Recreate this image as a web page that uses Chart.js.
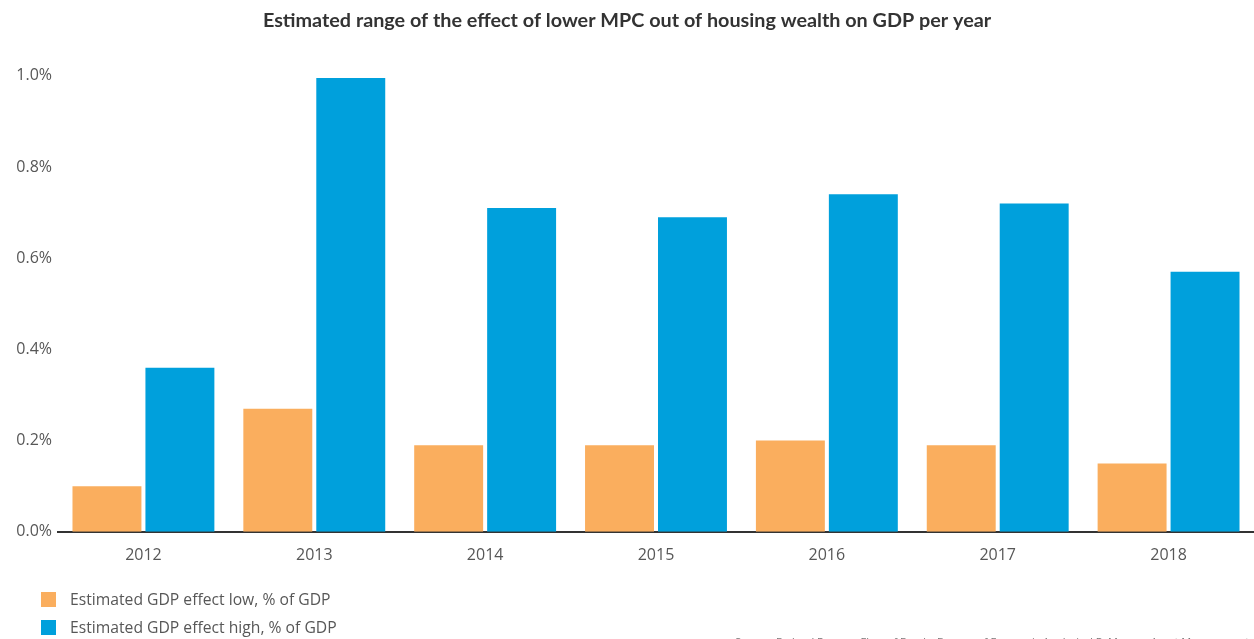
<!DOCTYPE html>
<html>
<head>
<meta charset="utf-8">
<script src="https://cdn.jsdelivr.net/npm/chart.js@4.4.1/dist/chart.umd.min.js"></script>
<style>
  html, body { margin: 0; padding: 0; background: #fff; overflow: hidden; }
  #wrap { position: relative; width: 1254px; height: 639px; overflow: hidden; }
  #legend { position: absolute; left: 41px; top: 585px; font-family: "Open Sans", sans-serif; font-size: 15.7px; color: #575757; }
  .item { display: flex; align-items: center; height: 28px; }
  .sw { width: 15px; height: 15px; margin-right: 14px; }
  #source { position: absolute; left: 735px; top: 634px; font-family: "Open Sans", sans-serif; font-size: 11px; color: #777; white-space: nowrap; }
</style>
</head>
<body>
<div id="wrap">
  <canvas id="c" width="1254" height="639"></canvas>
  <div id="legend"></div>
  <div id="source">Source: Federal Reserve Flow of Funds, Bureau of Economic Analysis, J.P. Morgan Asset Management</div>
</div>
<script>
const categories = ["2012", "2013", "2014", "2015", "2016", "2017", "2018"];
const lowValues  = [0.10, 0.27, 0.19, 0.19, 0.20, 0.19, 0.15];
const highValues = [0.36, 0.995, 0.71, 0.69, 0.74, 0.72, 0.57];
const seriesLabels = ["Estimated GDP effect low, % of GDP", "Estimated GDP effect high, % of GDP"];
const seriesColors = ["#FAAE5E", "#00A0DC"];
const yTicks = [0, 0.2, 0.4, 0.6, 0.8, 1.0];

const chart = new Chart(document.getElementById("c"), {
  type: "bar",
  data: {
    labels: categories,
    datasets: [
      { label: seriesLabels[0], data: lowValues, backgroundColor: seriesColors[0], barPercentage: 0.945, categoryPercentage: 0.854 },
      { label: seriesLabels[1], data: highValues, backgroundColor: seriesColors[1], barPercentage: 0.945, categoryPercentage: 0.854 }
    ]
  },
  options: {
    responsive: false,
    animation: false,
    layout: { padding: { top: 0, right: 0, bottom: 60, left: 0 } },
    plugins: {
      legend: { display: false },
      tooltip: { enabled: false },
      title: {
        display: true,
        text: "Estimated range of the effect of lower MPC out of housing wealth on GDP per year",
        color: "#333333",
        font: { family: "Lato", size: 19.8, weight: "bold" },
        padding: { top: 9, bottom: 43 }
      }
    },
    scales: {
      x: {
        grid: { display: false, tickLength: 0 },
        border: { display: true, color: "#333333", width: 2 },
        ticks: { color: "#575757", font: { family: "Open Sans", size: 16 }, padding: 14 }
      },
      y: {
        min: 0, max: 1.0,
        afterFit: (s) => { s.width = 58; },
        afterBuildTicks: (s) => { s.ticks = yTicks.map(v => ({ value: v })); },
        grid: { display: false, tickLength: 0 },
        border: { display: false },
        ticks: {
          color: "#575757",
          font: { family: "Open Sans", size: 16 },
          padding: 6,
          callback: (v) => v.toFixed(1) + "%"
        }
      }
    }
  }
});

const legend = document.getElementById("legend");
seriesLabels.forEach((l, i) => {
  const d = document.createElement("div");
  d.className = "item";
  d.innerHTML = '<span class="sw" style="background:' + seriesColors[i] + '"></span><span>' + l + '</span>';
  legend.appendChild(d);
});
</script>
</body>
</html>
